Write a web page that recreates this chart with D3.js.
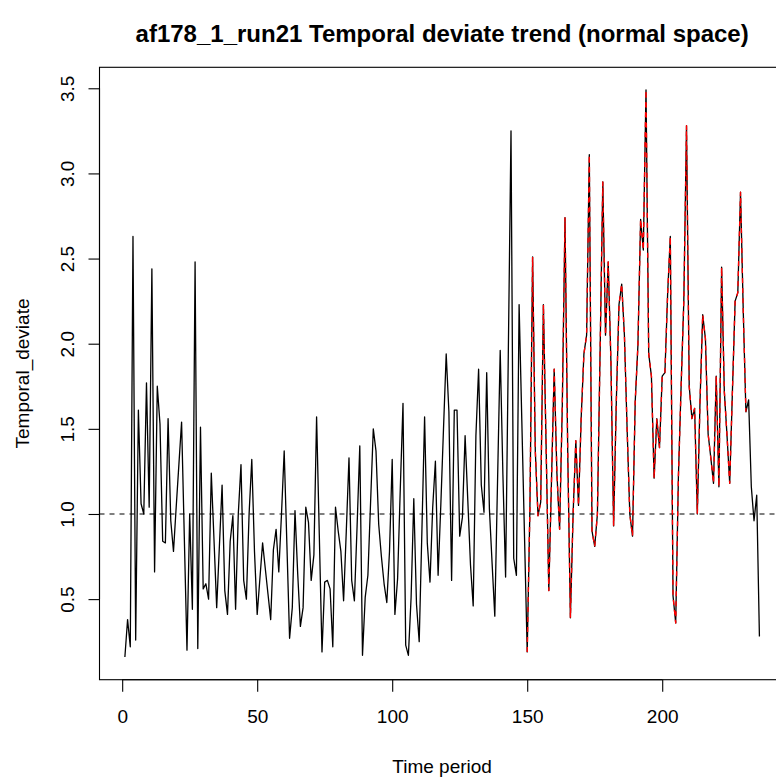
<!DOCTYPE html>
<html>
<head>
<meta charset="utf-8">
<script src="https://cdn.jsdelivr.net/npm/d3@7"></script>
<style>body{margin:0;background:#fff}</style>
</head>
<body>
<svg id="chart" width="776" height="779"></svg>
<script>
// ---- data ----
const deviate = [
0.16,0.38,0.22,2.63,0.26,1.61,1.06,1.00,1.77,1.04,
2.44,0.66,1.75,1.53,0.84,0.83,1.56,0.96,0.78,1.04,
1.29,1.54,0.87,0.20,1.00,0.44,2.48,0.21,1.51,0.56,
0.59,0.50,1.24,0.85,0.45,0.81,1.17,0.55,0.41,0.84,
0.99,0.44,1.00,1.29,0.61,0.50,1.00,1.32,0.78,0.41,
0.62,0.83,0.68,0.53,0.38,0.79,0.91,0.66,1.00,1.37,
0.82,0.27,0.45,1.02,0.65,0.34,0.45,1.04,0.95,0.61,
0.76,1.57,0.88,0.19,0.60,0.61,0.56,0.22,1.04,0.90,
0.78,0.49,0.90,1.33,0.61,0.49,0.93,1.40,0.17,0.51,
0.64,1.07,1.50,1.37,0.94,0.75,0.59,0.48,0.78,1.32,
0.41,0.62,1.15,1.65,0.23,0.17,0.51,1.09,0.47,0.25,
0.90,1.57,0.83,0.60,1.04,1.31,0.64,1.05,1.50,1.94,
1.60,0.61,1.61,1.61,0.87,0.98,1.46,1.08,0.70,0.46,
1.46,1.85,1.17,1.01,1.83,1.03,0.71,0.40,1.18,1.96,
1.23,0.63,1.94,3.25,0.74,0.64,2.23,1.55,0.87,0.19,
1.03,2.51,1.37,0.99,1.07,2.23,1.40,0.55,1.20,1.85,
1.24,0.91,1.64,2.74,1.37,0.39,1.00,1.43,1.05,1.57,
1.94,2.05,3.11,0.90,0.81,1.00,1.96,2.95,2.05,2.48,
1.90,0.93,1.66,2.23,2.35,2.05,1.50,1.00,0.87,1.66,
1.99,2.73,2.55,3.49,1.94,1.81,1.21,1.56,1.39,1.81,
1.83,2.29,2.63,0.52,0.36,1.22,1.75,2.25,3.28,1.75,
1.56,1.62,1.00,1.66,2.17,2.03,1.47,1.33,1.18,1.81,
1.16,2.45,1.72,1.46,1.18,1.72,2.25,2.30,2.89,2.20,
1.60,1.67,1.16,0.96,1.11,0.28
];
const fittedStart = 150;
const fitted = [
0.19,
1.03,2.51,1.37,0.99,1.07,2.23,1.40,0.55,1.20,1.85,
1.24,0.91,1.64,2.74,1.37,0.39,1.00,1.43,1.05,1.57,
1.94,2.05,3.11,0.90,0.81,1.00,1.96,2.95,2.05,2.48,
1.90,0.93,1.66,2.23,2.35,2.05,1.50,1.00,0.87,1.66,
1.99,2.73,2.55,3.49,1.94,1.81,1.21,1.56,1.39,1.81,
1.83,2.29,2.63,0.52,0.36,1.22,1.75,2.25,3.28,1.75,
1.56,1.62,1.00,1.66,2.17,2.03,1.47,1.33,1.18,1.81,
1.16,2.45,1.72,1.46,1.18,1.72,2.25,2.30,2.89,2.20,
1.60
];
const refLevel = 1.0;
const xTicks = [0, 50, 100, 150, 200];
const yTicks = [0.5, 1.0, 1.5, 2.0, 2.5, 3.0, 3.5];
const yTickLabels = ["0.5", "1.0", "1.5", "2.0", "2.5", "3.0", "3.5"];
const titleText = "af178_1_run21 Temporal deviate trend (normal space)";
const xLabel = "Time period";
const yLabel = "Temporal_deviate";

// ---- layout ----
const font = "'Liberation Sans', Arial, Helvetica, sans-serif";
const plot = {left: 99.5, right: 784.8, top: 67.3, bottom: 679.7};
const svg = d3.select("#chart");

const n = deviate.length;
const xPad = 0.04 * (n - 1);
const yMin = d3.min(deviate), yMax = d3.max(deviate);
const yPad = 0.04 * (yMax - yMin);

const x = d3.scaleLinear().domain([1 - xPad, n + xPad]).range([plot.left, plot.right]);
const y = d3.scaleLinear().domain([yMin - yPad, yMax + yPad]).range([plot.bottom, plot.top]);

// reference dashed line
svg.append("line")
  .attr("x1", plot.left).attr("x2", plot.right)
  .attr("y1", y(refLevel)).attr("y2", y(refLevel))
  .attr("stroke", "#000").attr("stroke-width", 1.2)
  .attr("stroke-dasharray", "5,5");

// main series
const line = d3.line().x((d, i) => x(i + 1)).y(d => y(d));
svg.append("path").datum(deviate)
  .attr("d", line).attr("fill", "none")
  .attr("stroke", "#000").attr("stroke-width", 1.3)
  .attr("stroke-linejoin", "round");

// fitted (red dashed) series
const line2 = d3.line().x((d, i) => x(fittedStart + i)).y(d => y(d));
svg.append("path").datum(fitted)
  .attr("d", line2).attr("fill", "none")
  .attr("stroke", "#ff0000").attr("stroke-width", 1.4)
  .attr("stroke-dasharray", "5,5")
  .attr("stroke-linejoin", "round");

// box
svg.append("rect")
  .attr("x", plot.left).attr("y", plot.top)
  .attr("width", plot.right - plot.left).attr("height", plot.bottom - plot.top)
  .attr("fill", "none").attr("stroke", "#000").attr("stroke-width", 1.1);

// x axis
const gx = svg.append("g").attr("transform", `translate(0,${plot.bottom})`)
  .call(d3.axisBottom(x).tickValues(xTicks).tickSize(12).tickFormat(d3.format("d")));
gx.select(".domain").remove();
gx.append("line").attr("x1", x(xTicks[0])).attr("x2", x(xTicks[xTicks.length - 1]))
  .attr("stroke", "#000").attr("stroke-width", 1.1);
gx.selectAll(".tick line").attr("stroke-width", 1.1);
gx.selectAll("text").attr("y", 36.5).attr("dy", "0.35em")
  .attr("font-family", font).attr("font-size", 19).attr("fill", "#000");

// y axis
const gy = svg.append("g").attr("transform", `translate(${plot.left},0)`)
  .call(d3.axisLeft(y).tickValues(yTicks).tickSize(11).tickFormat((d, i) => yTickLabels[i]));
gy.select(".domain").remove();
gy.append("line").attr("y1", y(yTicks[0])).attr("y2", y(yTicks[yTicks.length - 1]))
  .attr("stroke", "#000").attr("stroke-width", 1.1);
gy.selectAll(".tick line").attr("stroke-width", 1.1);
gy.selectAll("text")
  .attr("x", 0).attr("y", -32.5).attr("dy", null)
  .attr("dominant-baseline", "central").attr("text-anchor", "middle")
  .attr("transform", "rotate(-90)")
  .attr("font-family", font).attr("font-size", 19).attr("fill", "#000");

// titles
const cx = (plot.left + plot.right) / 2;
svg.append("text").attr("x", cx).attr("y", 33)
  .attr("text-anchor", "middle").attr("dominant-baseline", "central")
  .attr("font-family", font).attr("font-weight", "bold").attr("font-size", 24)
  .text(titleText);
svg.append("text").attr("x", cx).attr("y", 766)
  .attr("text-anchor", "middle").attr("dominant-baseline", "central")
  .attr("font-family", font).attr("font-size", 19)
  .text(xLabel);
svg.append("text")
  .attr("transform", `translate(22,${(plot.top + plot.bottom) / 2}) rotate(-90)`)
  .attr("text-anchor", "middle").attr("dominant-baseline", "central")
  .attr("font-family", font).attr("font-size", 19)
  .text(yLabel);
</script>
</body>
</html>
